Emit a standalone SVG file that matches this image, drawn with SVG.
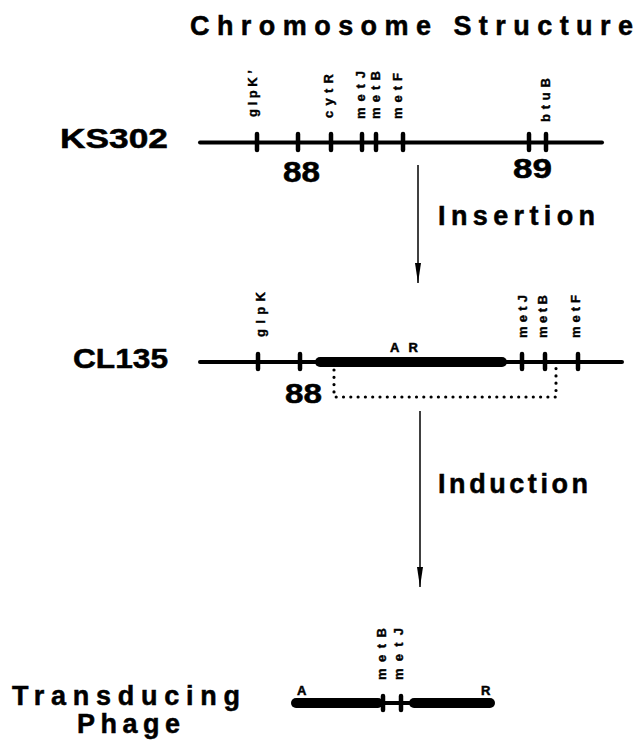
<svg xmlns="http://www.w3.org/2000/svg" width="636" height="751" viewBox="0 0 636 751">
<style>
.t{font-family:"Liberation Sans",Arial,sans-serif;font-weight:bold;fill:#000;stroke:#000;stroke-width:0.5}
.big{font-size:27px}
.g{font-size:13px;stroke-width:0.4}
.ln{stroke:#000;stroke-linecap:round;fill:none}
.tk{stroke:#000;stroke-width:4.5;stroke-linecap:round}
.dot{stroke:#000;stroke-width:3.2;stroke-linecap:round;stroke-dasharray:0 7.3;fill:none}
.ar{stroke:#000;stroke-width:1.5}
</style>
<defs>
<marker id="ah" viewBox="0 0 20 6" refX="20" refY="3" markerWidth="20" markerHeight="6" markerUnits="userSpaceOnUse" orient="auto">
<path d="M0,0 L20,3 L0,6 Z" fill="#000"/>
</marker>
</defs>
<rect width="636" height="751" fill="#fff"/>
<text class="t big" x="190" y="35" textLength="443" lengthAdjust="spacing">Chromosome Structure</text>

<g id="ks302">
<text class="t big" x="60" y="148" textLength="108" lengthAdjust="spacingAndGlyphs">KS302</text>
<line class="ln" x1="200" y1="142.5" x2="602" y2="142.5" stroke-width="4"/>
<line class="tk" x1="257" y1="134" x2="257" y2="150"/>
<line class="tk" x1="298" y1="134" x2="298" y2="150"/>
<line class="tk" x1="331" y1="134" x2="331" y2="150"/>
<line class="tk" x1="362" y1="134" x2="362" y2="150"/>
<line class="tk" x1="376" y1="134" x2="376" y2="150"/>
<line class="tk" x1="403" y1="134" x2="403" y2="150"/>
<line class="tk" x1="529" y1="134" x2="529" y2="150"/>
<line class="tk" x1="546" y1="134" x2="546" y2="150"/>
<text class="t g" transform="translate(257,117) rotate(-90)" textLength="47" lengthAdjust="spacing">glpK’</text>
<text class="t g" transform="translate(333,118) rotate(-90)" textLength="44" lengthAdjust="spacing">cytR</text>
<text class="t g" transform="translate(365,119) rotate(-90)" textLength="48" lengthAdjust="spacing">metJ</text>
<text class="t g" transform="translate(380,119) rotate(-90)" textLength="48" lengthAdjust="spacing">metB</text>
<text class="t g" transform="translate(402,119) rotate(-90)" textLength="46" lengthAdjust="spacing">metF</text>
<text class="t g" transform="translate(550,122) rotate(-90)" textLength="44" lengthAdjust="spacing">btuB</text>
<text class="t" x="283" y="182" font-size="29" textLength="37" lengthAdjust="spacingAndGlyphs">88</text>
<text class="t" x="513" y="178" font-size="27" textLength="39" lengthAdjust="spacingAndGlyphs">89</text>
</g>

<g id="cl135">
<text class="t big" x="73" y="368" textLength="95" lengthAdjust="spacingAndGlyphs">CL135</text>
<line class="ln" x1="200" y1="362" x2="622" y2="362" stroke-width="4"/>
<line class="ln" x1="320" y1="362" x2="502" y2="362" stroke-width="10"/>
<line class="tk" x1="258" y1="354" x2="258" y2="369"/>
<line class="tk" x1="300" y1="354" x2="300" y2="369"/>
<line class="tk" x1="522" y1="354" x2="522" y2="369"/>
<line class="tk" x1="545" y1="354" x2="545" y2="369"/>
<line class="tk" x1="578" y1="354" x2="578" y2="369"/>
<text class="t" x="390" y="352" font-size="13" textLength="28" lengthAdjust="spacing">AR</text>
<text class="t g" transform="translate(265,337) rotate(-90)" textLength="45" lengthAdjust="spacing">glpK</text>
<text class="t g" transform="translate(527,338) rotate(-90)" textLength="43" lengthAdjust="spacing">metJ</text>
<text class="t g" transform="translate(547,338) rotate(-90)" textLength="43" lengthAdjust="spacing">metB</text>
<text class="t g" transform="translate(580,338) rotate(-90)" textLength="43" lengthAdjust="spacing">metF</text>
<text class="t" x="285" y="403" font-size="28" textLength="37" lengthAdjust="spacingAndGlyphs">88</text>
</g>

<g id="phage">
<text class="t big" x="12" y="705" textLength="228" lengthAdjust="spacing">Transducing</text>
<text class="t big" x="77" y="733" textLength="103" lengthAdjust="spacing">Phage</text>
<line class="ln" x1="378" y1="703" x2="414" y2="703" stroke-width="4"/>
<line class="ln" x1="296" y1="703" x2="378" y2="703" stroke-width="10"/>
<line class="ln" x1="414" y1="703" x2="490" y2="703" stroke-width="10"/>
<line class="tk" x1="383" y1="696" x2="383" y2="710"/>
<line class="tk" x1="401" y1="696" x2="401" y2="710"/>
<text class="t" x="297" y="695" font-size="13">A</text>
<text class="t" x="481" y="695" font-size="13">R</text>
<text class="t g" transform="translate(386,680) rotate(-90)" textLength="52" lengthAdjust="spacing">metB</text>
<text class="t g" transform="translate(403,680) rotate(-90)" textLength="52" lengthAdjust="spacing">metJ</text>
</g>

<g id="connectors">
<line class="ar" x1="418" y1="165" x2="418" y2="283" marker-end="url(#ah)"/>
<line class="ar" x1="420" y1="411" x2="420" y2="587" marker-end="url(#ah)"/>
<polyline class="dot" points="334,370 334,397 556,397 556,368"/>
<text class="t big" x="438" y="225" textLength="157" lengthAdjust="spacing">Insertion</text>
<text class="t big" x="438" y="493" textLength="150" lengthAdjust="spacing">Induction</text>
</g>
</svg>
